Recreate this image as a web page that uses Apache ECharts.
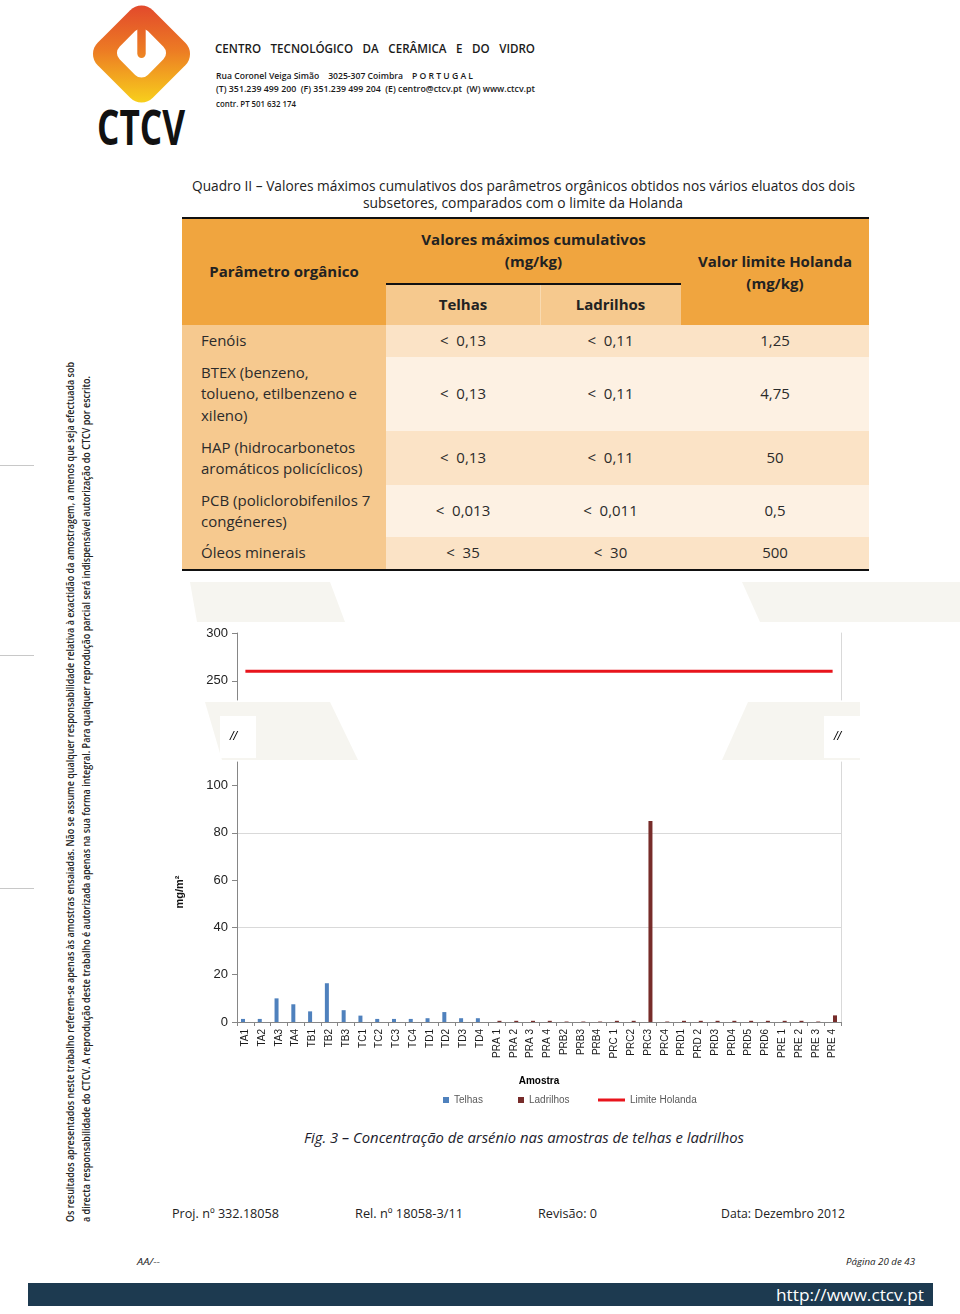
<!DOCTYPE html>
<html><head><meta charset="utf-8">
<script src="https://cdn.jsdelivr.net/npm/echarts@6/dist/echarts.min.js"></script>
<style>
html,body{margin:0;padding:0;background:#fff;}
#page{position:relative;width:960px;height:1314px;overflow:hidden;background:#fff;}
#doc{position:absolute;left:0;top:0;z-index:0;}
#chart{position:absolute;left:160px;top:600px;width:720px;height:520px;z-index:1;}
</style></head>
<body><div id="page">
<svg id="doc" width="960" height="1314" viewBox="0 0 960 1314" xmlns="http://www.w3.org/2000/svg">
<defs>
<linearGradient id="lg" gradientUnits="userSpaceOnUse" x1="0" y1="5" x2="0" y2="104">
<stop offset="0" stop-color="#e2492c"/><stop offset="0.45" stop-color="#ec7a24"/><stop offset="1" stop-color="#f8d21c"/>
</linearGradient>
<clipPath id="outer"><rect x="-39" y="-39" width="78" height="78" rx="16" transform="translate(141.5,54) rotate(45)"/></clipPath>
</defs>
<g id="wm"></g>
<g id="logo">
<rect x="90" y="0" width="105" height="110" fill="url(#lg)" clip-path="url(#outer)"/>
<rect x="-20" y="-20" width="40" height="40" rx="9" fill="#fff" transform="translate(141.5,53) rotate(45)"/>
<rect x="137.3" y="13" width="8.4" height="45" rx="4.2" fill="url(#lg)"/>
<text x="97" y="145" font-size="48" font-weight="bold" font-family="'Open Sans',sans-serif" fill="#111" textLength="88" lengthAdjust="spacingAndGlyphs">CTCV</text>
</g>
<g id="txt"></g>
</svg>
<div id="chart"></div>
</div>
<script>
// ---------- chart data ----------
const categories = ['TA1','TA2','TA3','TA4','TB1','TB2','TB3','TC1','TC2','TC3','TC4','TD1','TD2','TD3','TD4',
  'PRA 1','PRA 2','PRA 3','PRA 4','PRB2','PRB3','PRB4','PRC 1','PRC2','PRC3','PRC4',
  'PRD1','PRD 2','PRD3','PRD4','PRD5','PRD6','PRE 1','PRE 2','PRE 3','PRE 4'];
const telhas = [1.3,1.3,10.0,7.5,4.5,16.4,5.0,2.7,1.3,1.3,1.3,1.6,4.2,1.6,1.6,
  null,null,null,null,null,null,null,null,null,null,null,null,null,null,null,null,null,null,null,null,null];
const ladrilhos = [null,null,null,null,null,null,null,null,null,null,null,null,null,null,null,
  0.5,0.5,0.5,0.5,0.2,0.2,0.2,0.5,0.5,85,0.2,0.5,0.5,0.5,0.5,0.5,0.5,0.5,0.5,0.2,2.8];
const limiteHolanda = [260,260,260,260,260,260,260,260,260,260,260,260,260,260,260,260,260,260,
  260,260,260,260,260,260,260,260,260,260,260,260,260,260,260,260,260,260];
const yTicksTop = [250, 300];
const yTicksBottom = [0, 20, 40, 60, 80, 100];

// ---------- table data ----------
const tableParams = [['Fenóis'], ['BTEX (benzeno,','tolueno, etilbenzeno e','xileno)'],
  ['HAP (hidrocarbonetos','aromáticos policíclicos)'], ['PCB (policlorobifenilos 7','congéneres)'], ['Óleos minerais']];
const tableTelhas = ['<  0,13','<  0,13','<  0,13','<  0,013','<  35'];
const tableLadrilhos = ['<  0,11','<  0,11','<  0,11','<  0,011','<  30'];
const tableLimite = ['1,25','4,75','50','0,5','500'];

// ---------- document drawing ----------
const NS = 'http://www.w3.org/2000/svg';
const txtG = document.getElementById('txt');
const wmG = document.getElementById('wm');
function el(tag, attrs, parent){ const e=document.createElementNS(NS,tag); for(const k in attrs) e.setAttribute(k,attrs[k]); (parent||txtG).appendChild(e); return e; }
function T(s, x, yc, size, o){
  o = o||{};
  const t = el('text', {x:x, y:(yc + size*0.35).toFixed(2), 'font-size':size,
    'font-family': o.family||"'Open Sans', sans-serif", fill:o.color||'#222'});
  if(o.weight) t.setAttribute('font-weight', o.weight);
  if(o.italic) t.setAttribute('font-style','italic');
  if(o.anchor) t.setAttribute('text-anchor', o.anchor);
  if(o.w){ t.setAttribute('textLength', o.w); t.setAttribute('lengthAdjust', o.adjust||'spacingAndGlyphs'); }
  if(o.transform) t.setAttribute('transform', o.transform);
  if(o.ws) t.style.wordSpacing = o.ws+'px';
  t.style.whiteSpace = 'pre';
  t.textContent = s;
  return t;
}

// faint watermark shapes
const wmFill = '#f6f5f0';
[[190,582, 330,582, 345,622, 197,622], [742,582, 960,582, 960,622, 760,622],
 [205,702, 330,702, 358,760, 222,760], [748,702, 860,702, 860,760, 722,760]].forEach(p => {
  el('polygon',{points:p.join(','), fill:wmFill}, wmG);
});

// header
T('CENTRO TECNOLÓGICO DA CERÂMICA E DO VIDRO', 215, 49, 12.5, {w:320, ws:7, weight:600, color:'#1a1a1a'});
T('Rua Coronel Veiga Simão    3025-307 Coimbra    P O R T U G A L', 216, 76, 9, {w:257, weight:600, color:'#1a1a1a'});
T('(T) 351.239 499 200  (F) 351.239 499 204  (E) centro@ctcv.pt  (W) www.ctcv.pt', 216, 89, 9, {w:319, weight:600, color:'#1a1a1a'});
T('contr. PT 501 632 174', 216, 104, 8, {w:80, weight:600, color:'#1a1a1a'});

// left margin marks
[465, 655, 888].forEach(y => el('rect', {x:0, y:y, width:34, height:1, fill:'#c8c8c8'}));

// side text
T('Os resultados apresentados neste trabalho referem-se apenas às amostras ensaiadas. Não se assume qualquer responsabilidade relativa à exactidão da amostragem, a menos que seja efectuada sob',
  0, 0, 11, {w:860, weight:600, color:'#222', transform:'translate(70,1222) rotate(-90)'});
T('a directa responsabilidade do CTCV. A reprodução deste trabalho é autorizada apenas na sua forma integral. Para qualquer reprodução parcial será indispensável autorização do CTCV por escrito.',
  0, 0, 11, {w:846, weight:600, color:'#222', transform:'translate(86,1222) rotate(-90)'});

// title
T('Quadro II – Valores máximos cumulativos dos parâmetros orgânicos obtidos nos vários eluatos dos dois', 192, 186, 14, {w:663});
T('subsetores, comparados com o limite da Holanda', 523, 203, 14, {w:320, anchor:'middle'});

// table
const X0=182, C1=386, C2=540, C3=681, X4=869;
el('rect',{x:X0,y:217,width:X4-X0,height:2,fill:'#111'});
el('rect',{x:X0,y:219,width:X4-X0,height:106,fill:'#f0a53f'});
el('rect',{x:C1,y:285,width:C3-C1,height:40,fill:'#f6c98e'});
el('rect',{x:C1,y:283,width:C3-C1,height:2,fill:'#111'});
el('rect',{x:C2,y:285,width:1,height:40,fill:'#f9dab0'});
const rowH = [32, 74, 54, 52, 32];
let ry = 325;
const rowTop = [];
rowH.forEach((h,i) => { rowTop.push(ry); el('rect',{x:C1,y:ry,width:X4-C1,height:h,fill: i%2===0 ? '#fbe3c6' : '#fdf1e3'}); ry += h; });
el('rect',{x:X0,y:325,width:C1-X0,height:ry-325,fill:'#f6c98f'});
el('rect',{x:X0,y:ry,width:X4-X0,height:2,fill:'#111'});
// header text
T('Parâmetro orgânico', (X0+C1)/2, 272, 15, {weight:'bold', anchor:'middle'});
T('Valores máximos cumulativos', (C1+C3)/2, 240, 15, {weight:'bold', anchor:'middle'});
T('(mg/kg)', (C1+C3)/2, 262, 15, {weight:'bold', anchor:'middle'});
T('Valor limite Holanda', (C3+X4)/2, 262, 15, {weight:'bold', anchor:'middle'});
T('(mg/kg)', (C3+X4)/2, 284, 15, {weight:'bold', anchor:'middle'});
T('Telhas', (C1+C2)/2, 305, 15, {weight:'bold', anchor:'middle'});
T('Ladrilhos', (C2+C3)/2, 305, 15, {weight:'bold', anchor:'middle'});
// body text
tableParams.forEach((lines,i) => {
  const yc = rowTop[i] + rowH[i]/2;
  lines.forEach((ln,j) => T(ln, 201, yc + (j - (lines.length-1)/2)*21.5, 15, {color:'#2b2b2b'}));
  T(tableTelhas[i], (C1+C2)/2, yc, 15, {anchor:'middle', color:'#2b2b2b'});
  T(tableLadrilhos[i], (C2+C3)/2, yc, 15, {anchor:'middle', color:'#2b2b2b'});
  T(tableLimite[i], (C3+X4)/2, yc, 15, {anchor:'middle', color:'#2b2b2b'});
});

// caption & footer
T('Fig. 3 – Concentração de arsénio nas amostras de telhas e ladrilhos', 304, 1138, 14, {w:440, italic:true, color:'#1c1c2c'});
T('Proj. nº 332.18058', 172, 1213, 13, {w:107});
T('Rel. nº 18058-3/11', 355, 1213, 13, {w:108});
T('Revisão: 0', 538, 1213, 13, {w:59});
T('Data: Dezembro 2012', 721, 1213, 13, {w:124});
T('AA/--', 137, 1262, 9, {w:23, italic:true});
T('Página 20 de 43', 846, 1262, 9, {w:69, italic:true});
el('rect',{x:28,y:1283,width:905,height:23,fill:'#1d3a50'});
T('http://www.ctcv.pt', 776, 1295, 17, {w:148, color:'#ffffff'});

// ---------- chart ----------
const chart = echarts.init(document.getElementById('chart'), null, {renderer:'canvas'});
const AX = '#868686', GRID = '#d9d9d9', T0 = 'rgba(0,0,0,0)';
const labelStyle = {fontFamily:"'Liberation Sans Narrow', 'Liberation Sans', sans-serif", fontSize:13, color:'#222', margin:9};
chart.setOption({
  animation:false,
  backgroundColor:'transparent',
  textStyle:{fontFamily:"'Liberation Sans', Arial, sans-serif"},
  grid:[
    {left:77, top:33, width:604, height:67, show:true, backgroundColor:'#fff', borderWidth:0, outerBoundsMode:'none'},
    {left:77, top:162, width:604, height:260, show:true, backgroundColor:'#fff', borderWidth:0, outerBoundsMode:'none'}
  ],
  xAxis:[
    {type:'category', gridIndex:0, data:categories, show:false},
    {type:'category', gridIndex:1, data:categories,
     axisLine:{show:true, lineStyle:{color:AX}}, axisTick:{show:true, length:4, lineStyle:{color:AX}},
     axisLabel:{interval:0, rotate:90, fontSize:10, color:'#1a1a1a', margin:7, fontFamily:"'Liberation Sans', Arial, sans-serif"},
     name:'Amostra', nameLocation:'middle', nameGap:54,
     nameTextStyle:{fontWeight:'bold', fontSize:10, color:'#000'}}
  ],
  yAxis:[
    {type:'value', gridIndex:0, min:230, max:300, interval:10,
     axisLine:{show:true, lineStyle:{color:AX}},
     axisTick:{show:true, length:5, lineStyle:{color:AX}, customValues:yTicksTop},
     axisLabel:Object.assign({customValues:yTicksTop, formatter:v => yTicksTop.includes(v) ? String(v) : ''}, labelStyle),
     splitLine:{show:true, lineStyle:{color:[T0,T0,GRID,T0,T0]}}},
    {type:'value', gridIndex:1, min:0, max:110, interval:10,
     axisLine:{show:true, lineStyle:{color:AX}},
     axisTick:{show:true, length:5, lineStyle:{color:AX}, customValues:yTicksBottom},
     axisLabel:Object.assign({customValues:yTicksBottom, formatter:v => yTicksBottom.includes(v) ? String(v) : ''}, labelStyle),
     splitLine:{show:true, lineStyle:{color:[GRID,T0]}},
     name:'mg/m²', nameLocation:'middle', nameGap:52, nameRotate:90,
     nameTextStyle:{fontWeight:'bold', fontSize:11, color:'#111'}},
    {type:'value', gridIndex:0, position:'right', min:230, max:300,
     axisLine:{show:true, lineStyle:{color:GRID}}, axisLabel:{show:false}, axisTick:{show:false}, splitLine:{show:false}},
    {type:'value', gridIndex:1, position:'right', min:0, max:110,
     axisLine:{show:true, lineStyle:{color:GRID}}, axisLabel:{show:false}, axisTick:{show:false}, splitLine:{show:false}}
  ],
  legend:[
    {data:[{name:'Telhas', icon:'rect'}], left:283, top:495, padding:0, itemWidth:6, itemHeight:6,
     textStyle:{fontSize:10, color:'#595959'}},
    {data:[{name:'Ladrilhos', icon:'rect'}], left:358, top:495, padding:0, itemWidth:6, itemHeight:6,
     textStyle:{fontSize:10, color:'#595959'}},
    {data:[{name:'Limite Holanda', icon:'rect'}], left:438, top:495, padding:0, itemWidth:27, itemHeight:3,
     textStyle:{fontSize:10, color:'#595959'}}
  ],
  series:[
    {name:'Telhas', type:'bar', xAxisIndex:1, yAxisIndex:1, data:telhas, barWidth:4, barGap:'20%',
     itemStyle:{color:'#4f81bd'}},
    {name:'Ladrilhos', type:'bar', xAxisIndex:1, yAxisIndex:1, data:ladrilhos, barWidth:4, barGap:'20%',
     itemStyle:{color:'#772c2a'}},
    {name:'Limite Holanda', type:'line', xAxisIndex:0, yAxisIndex:0, data:limiteHolanda, symbol:'none',
     lineStyle:{color:'#e8141c', width:3}, itemStyle:{color:'#e8141c'}}
  ],
  graphic:[
    {type:'rect', left:60, top:116, shape:{width:36, height:42}, style:{fill:'#fff'}},
    {type:'rect', left:664, top:116, shape:{width:36, height:42}, style:{fill:'#fff'}},
    {type:'text', left:70, top:130, style:{text:'//', fontSize:13, fontStyle:'italic', fill:'#000', fontFamily:"'Liberation Sans', sans-serif"}},
    {type:'text', left:674, top:130, style:{text:'//', fontSize:13, fontStyle:'italic', fill:'#000', fontFamily:"'Liberation Sans', sans-serif"}}
  ]
});
</script>
</body></html>
